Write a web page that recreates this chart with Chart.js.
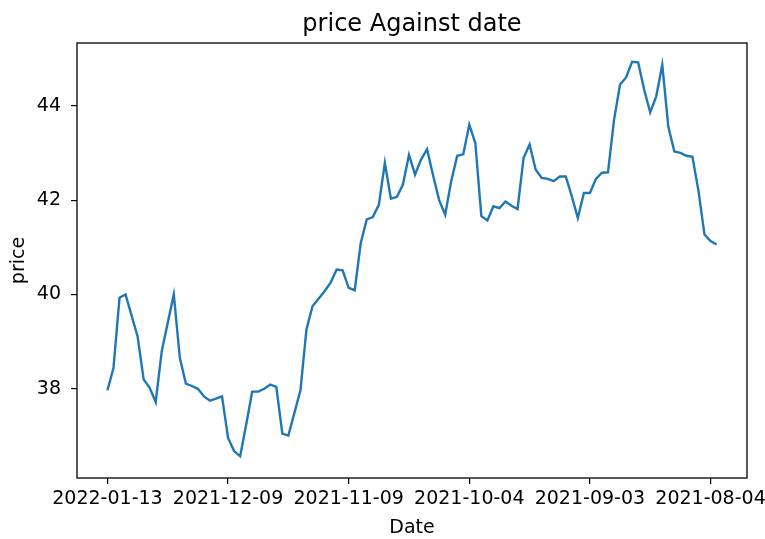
<!DOCTYPE html>
<html>
<head>
<meta charset="utf-8">
<script src="https://cdn.jsdelivr.net/npm/chart.js@4.4.0/dist/chart.umd.min.js"></script>
<style>
    html, body { margin: 0; padding: 0; background: #fff; }
    #wrap { width: 765px; height: 539px; }
</style>
</head>
<body>
<div id="wrap"><canvas id="priceChart"></canvas></div>
<script>
// prices, newest first (index 0 = 2022-01-13)
const prices = [
    37.97, 38.44, 39.93, 40.0, 39.55, 39.11, 38.2, 38.02, 37.72, 38.8,
    39.4, 40.0, 38.66, 38.11, 38.06, 38.0, 37.84, 37.75, 37.79, 37.84,
    36.96, 36.68, 36.57, 37.24, 37.94, 37.94, 38.0, 38.09, 38.04, 37.05,
    37.01, 37.49, 37.97, 39.26, 39.75, 39.91, 40.07, 40.25, 40.53, 40.51,
    40.14, 40.09, 41.09, 41.59, 41.64, 41.9, 42.79, 42.03, 42.07, 42.33,
    42.96, 42.54, 42.86, 43.08, 42.52, 42.0, 41.69, 42.4, 42.94, 42.97,
    43.6, 43.21, 41.66, 41.57, 41.87, 41.83, 41.97, 41.88, 41.81, 42.89,
    43.18, 42.65, 42.47, 42.45, 42.4, 42.5, 42.5, 42.08, 41.62, 42.15,
    42.15, 42.45, 42.58, 42.59, 43.7, 44.45, 44.6, 44.93, 44.92, 44.34,
    43.86, 44.2, 44.87, 43.56, 43.03, 43.0, 42.94, 42.92, 42.2, 41.27,
    41.13, 41.06
];

const tickLabels = ['2022-01-13', '2021-12-09', '2021-11-09', '2021-10-04', '2021-09-03', '2021-08-04'];
const tickIndex = [0, 20, 40, 60, 80, 100];
const yTicks = [38, 40, 42, 44];
const chartTitle = 'price Against date';

const points = prices.map((p, i) => ({ x: i, y: p }));

const font = 'DejaVu Sans';

// box round the plot, and the title centred over the plot like matplotlib does
const frame = {
    id: 'frame',
    afterDraw(chart) {
        const a = chart.chartArea;
        const c = chart.ctx;
        c.save();
        c.strokeStyle = '#000';
        c.lineWidth = 1.3;
        c.strokeRect(a.left, a.top, a.right - a.left, a.bottom - a.top);

        c.fillStyle = '#000';
        c.font = '24px "' + font + '"';
        c.textAlign = 'center';
        c.textBaseline = 'alphabetic';
        c.fillText(chartTitle, (a.left + a.right) / 2, 31);
        c.restore();
    }
};

new Chart(document.getElementById('priceChart'), {
    type: 'line',
    data: {
        datasets: [{
            data: points,
            borderColor: '#1f77b4',
            borderWidth: 2.4,
            pointRadius: 0,
            tension: 0,
            fill: false
        }]
    },
    options: {
        responsive: true,
        maintainAspectRatio: false,
        animation: false,
        layout: { padding: { left: 0, right: 18, top: 43, bottom: 0 } },
        plugins: {
            legend: { display: false },
            tooltip: { enabled: false },
            title: { display: false }
        },
        scales: {
            x: {
                type: 'linear',
                min: -5.05,
                max: 106.05,
                afterBuildTicks: s => { s.ticks = tickIndex.map(v => ({ value: v })); },
                afterFit: s => {
                    s.height = 61;
                    s.paddingLeft = 0;
                    s.paddingRight = 0;
                },
                grid: { drawOnChartArea: false, drawTicks: true, tickLength: 6, color: '#000', lineWidth: 1.2 },
                border: { display: false },
                ticks: {
                    autoSkip: false,
                    maxRotation: 0,
                    padding: 4,
                    color: '#000',
                    font: { family: font, size: 19 },
                    callback: v => tickLabels[tickIndex.indexOf(v)]
                },
                title: {
                    display: true,
                    text: 'Date',
                    color: '#000',
                    font: { family: font, size: 19 },
                    padding: { top: 0, bottom: 0 }
                }
            },
            y: {
                min: 36.11,
                max: 45.33,
                afterBuildTicks: s => { s.ticks = yTicks.map(v => ({ value: v })); },
                afterFit: s => {
                    s.width = 77;
                    s.paddingTop = 0;
                    s.paddingBottom = 0;
                },
                grid: { drawOnChartArea: false, drawTicks: true, tickLength: 6, color: '#000', lineWidth: 1.2 },
                border: { display: false },
                ticks: {
                    padding: 10,
                    color: '#000',
                    font: { family: font, size: 19 }
                },
                title: {
                    display: true,
                    text: 'price',
                    color: '#000',
                    font: { family: font, size: 19 },
                    padding: { top: 8, bottom: 0 }
                }
            }
        }
    },
    plugins: [frame]
});
</script>
</body>
</html>
